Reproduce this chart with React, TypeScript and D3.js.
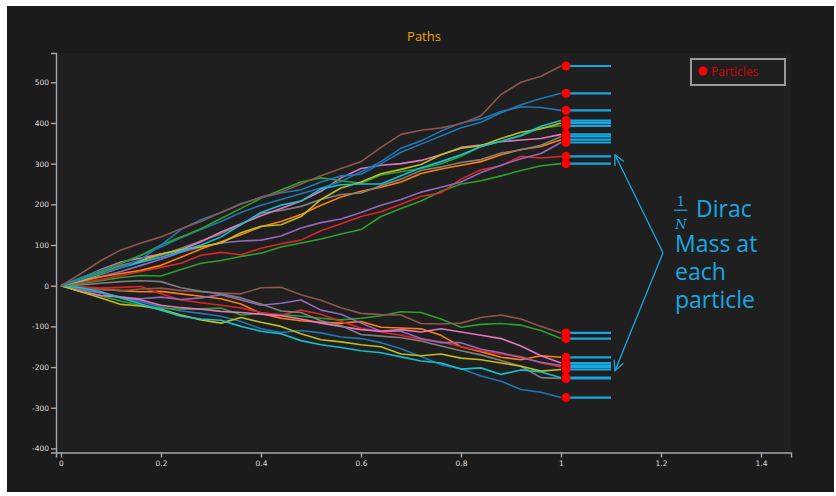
// Trayectorias de partículas con masas de Dirac al final
import { useRef, useEffect } from 'react'
import * as d3 from 'd3'

const times = [0, 0.04, 0.08, 0.12, 0.16, 0.2, 0.24, 0.28, 0.32, 0.36, 0.4, 0.44, 0.48, 0.52, 0.56, 0.6, 0.64, 0.68, 0.72, 0.76, 0.8, 0.84, 0.88, 0.92, 0.96, 1.0]

// trayectorias que suben
const upBrown = [0, 30, 62, 88, 105, 120, 140, 158, 180, 200, 218, 230, 250, 270, 288, 305, 340, 372, 382, 388, 398, 418, 470, 500, 515, 540]
const upBlueA = [0, 15, 30, 45, 65, 100, 138, 162, 180, 202, 216, 228, 236, 255, 270, 274, 300, 328, 348, 368, 388, 402, 425, 445, 460, 473]
const upBlueB = [0, 20, 38, 55, 75, 95, 118, 138, 158, 180, 198, 212, 226, 240, 256, 280, 305, 338, 356, 380, 400, 410, 428, 440, 438, 431]
const upCyan = [0, 15, 30, 45, 58, 70, 85, 100, 120, 150, 180, 198, 208, 238, 248, 250, 250, 270, 290, 305, 322, 342, 355, 370, 392, 406]
const upOlive = [0, 12, 28, 45, 62, 78, 88, 96, 105, 130, 146, 150, 170, 212, 240, 255, 275, 286, 298, 322, 338, 344, 362, 377, 386, 400]
const upGreen2 = [0, 18, 35, 55, 75, 100, 120, 140, 165, 190, 215, 235, 255, 265, 258, 252, 272, 280, 288, 300, 318, 342, 355, 368, 388, 393]
const upPink = [0, 18, 40, 58, 68, 78, 88, 108, 132, 152, 172, 190, 208, 232, 265, 288, 296, 300, 308, 322, 340, 346, 354, 358, 362, 372]
const upGray = [0, 15, 32, 50, 62, 75, 92, 110, 128, 150, 178, 185, 195, 212, 224, 228, 246, 262, 283, 292, 303, 310, 326, 334, 345, 367]
const upOrange = [0, 12, 22, 30, 38, 50, 70, 90, 108, 125, 145, 158, 175, 198, 218, 232, 242, 255, 276, 287, 296, 305, 322, 335, 342, 359]
const upPurple = [0, 10, 22, 35, 50, 65, 82, 95, 105, 110, 112, 122, 142, 155, 164, 180, 198, 212, 230, 242, 255, 278, 296, 312, 325, 352]
const upRed = [0, 8, 15, 25, 35, 45, 55, 75, 82, 76, 92, 103, 112, 135, 152, 170, 182, 200, 220, 228, 262, 285, 295, 318, 314, 318]
const upGreen = [0, 5, 12, 20, 25, 24, 40, 55, 62, 72, 80, 95, 105, 115, 127, 138, 170, 190, 208, 232, 250, 258, 270, 283, 295, 300]

// trayectorias que bajan
const dnBrown = [0, -5, -10, -12, -8, -6, -12, -15, -18, -20, -5, -4, -22, -36, -54, -68, -71, -72, -93, -94, -92, -78, -72, -82, -100, -116]
const dnGreen = [0, -12, -25, -38, -48, -55, -58, -57, -55, -72, -68, -71, -75, -80, -84, -80, -74, -64, -66, -82, -102, -95, -93, -97, -110, -130]
const dnOrange = [0, -5, -8, -12, -15, -14, -20, -26, -32, -45, -68, -80, -86, -90, -92, -88, -102, -104, -106, -122, -150, -162, -176, -182, -172, -176]
const dnPink = [0, -15, -24, -28, -35, -48, -54, -58, -63, -66, -70, -74, -82, -92, -100, -108, -112, -108, -114, -106, -114, -122, -130, -148, -172, -190]
const dnPurple = [0, -10, -18, -28, -32, -28, -34, -30, -22, -35, -48, -43, -35, -60, -70, -92, -112, -112, -130, -140, -140, -156, -165, -177, -188, -196]
const dnRed = [0, -3, -6, -4, -2, -20, -35, -42, -48, -55, -66, -72, -60, -70, -88, -104, -114, -122, -132, -138, -150, -160, -168, -174, -190, -200]
const dnOlive = [0, -15, -30, -46, -50, -58, -72, -84, -92, -78, -90, -100, -118, -133, -138, -145, -150, -168, -172, -168, -178, -182, -190, -198, -210, -206]
const dnGray = [0, 2, 6, 10, 12, 10, -5, -14, -20, -30, -45, -62, -66, -86, -98, -120, -124, -128, -136, -148, -160, -170, -184, -198, -226, -228]
const dnCyan = [0, -5, -15, -30, -45, -60, -75, -82, -85, -100, -112, -118, -135, -145, -152, -160, -165, -175, -185, -190, -205, -202, -218, -207, -212, -226]
const dnBlue = [0, -8, -18, -30, -40, -52, -62, -68, -75, -88, -106, -115, -110, -116, -126, -130, -140, -155, -174, -194, -204, -222, -235, -255, -262, -275]

// índice en d3.schemeCategory10
const series = [
  { values: dnBlue, color: 0 }, { values: dnOrange, color: 1 }, { values: dnGreen, color: 2 },
  { values: dnRed, color: 3 }, { values: dnPurple, color: 4 }, { values: dnBrown, color: 5 },
  { values: dnPink, color: 6 }, { values: dnGray, color: 7 }, { values: dnOlive, color: 8 },
  { values: dnCyan, color: 9 },
  { values: upGreen, color: 2 }, { values: upRed, color: 3 }, { values: upPurple, color: 4 },
  { values: upOrange, color: 1 }, { values: upGray, color: 7 }, { values: upPink, color: 6 },
  { values: upBlueB, color: 0 }, { values: upGreen2, color: 2 }, { values: upOlive, color: 8 },
  { values: upCyan, color: 9 }, { values: upBlueA, color: 0 }, { values: upBrown, color: 5 },
]

const particleX = 1.01
const diracEnd = 1.1
const xTicks = [0, 0.2, 0.4, 0.6, 0.8, 1, 1.2, 1.4]
const yTicks = [-400, -300, -200, -100, 0, 100, 200, 300, 400, 500]

const CYAN = '#17a8e3'

export default function App() {
  const svgRef = useRef<SVGSVGElement>(null)

  useEffect(() => {
    const W = 836
    const H = 496
    const svg = d3.select(svgRef.current)
    svg.selectAll('*').remove()

    const x = d3.scaleLinear().domain([-0.01, 1.46]).range([56, 791])
    const y = d3.scaleLinear().domain([-410, 572]).range([452.5, 53])

    svg.append('rect').attr('width', W).attr('height', H).attr('fill', '#ffffff')
    svg.append('rect').attr('x', 7).attr('y', 6).attr('width', 827).attr('height', 486).attr('fill', '#1b1b1b')
    svg.append('rect')
      .attr('x', x.range()[0]).attr('y', y.range()[1])
      .attr('width', x.range()[1] - x.range()[0])
      .attr('height', y.range()[0] - y.range()[1])
      .attr('fill', '#1f1f1f')

    // título
    svg.append('text')
      .attr('x', 424).attr('y', 41)
      .attr('text-anchor', 'middle')
      .attr('font-family', 'Open Sans, sans-serif')
      .attr('font-size', '13px')
      .attr('fill', '#f0a30a')
      .text('Paths')

    // ejes
    const xAxis = svg.append('g')
      .attr('transform', `translate(0, ${y.range()[0]})`)
      .call(d3.axisBottom(x).tickValues(xTicks).tickSize(5).tickFormat(d => String(d)))
    const yAxis = svg.append('g')
      .attr('transform', `translate(${x.range()[0]}, 0)`)
      .call(d3.axisLeft(y).tickValues(yTicks).tickSize(5).tickPadding(2).tickFormat(d => String(d)))
    ;[xAxis, yAxis].forEach(a => {
      a.selectAll('path, line').attr('stroke', '#a8a8a8').attr('stroke-width', 1.4)
      a.selectAll('text')
        .attr('fill', '#dddddd')
        .attr('font-family', 'DejaVu Sans, sans-serif')
        .attr('font-size', '7.5px')
    })

    // trayectorias
    const line = d3.line<number>()
      .x((d, i) => x(times[i]))
      .y(d => y(d))
    svg.append('g')
      .selectAll('path')
      .data(series)
      .join('path')
      .attr('d', d => line(d.values))
      .attr('fill', 'none')
      .attr('stroke', d => d3.schemeCategory10[d.color])
      .attr('stroke-width', 1.6)
      .attr('stroke-linejoin', 'round')

    const finals = series.map(s => s.values[s.values.length - 1])

    // masas de Dirac
    svg.append('g')
      .selectAll('line')
      .data(finals)
      .join('line')
      .attr('x1', x(particleX)).attr('x2', x(diracEnd))
      .attr('y1', d => y(d)).attr('y2', d => y(d))
      .attr('stroke', CYAN)
      .attr('stroke-width', 2.2)

    svg.append('g')
      .selectAll('circle')
      .data(finals)
      .join('circle')
      .attr('cx', x(particleX))
      .attr('cy', d => y(d))
      .attr('r', 4.5)
      .attr('fill', '#ff0000')

    // leyenda
    const lg = svg.append('g').attr('transform', 'translate(691, 59)')
    lg.append('rect').attr('width', 94).attr('height', 26)
      .attr('fill', 'none').attr('stroke', '#9a9a9a').attr('stroke-width', 2)
    lg.append('circle').attr('cx', 12).attr('cy', 12).attr('r', 4.5).attr('fill', '#ff0000')
    lg.append('text').attr('x', 20).attr('y', 16.5)
      .attr('font-family', 'Open Sans, sans-serif')
      .attr('font-size', '12px')
      .attr('fill', '#d40000')
      .text('Particles')

    // anotación con flechas
    const defs = svg.append('defs')
    defs.append('marker')
      .attr('id', 'arrowOpen')
      .attr('viewBox', '0 0 12 12')
      .attr('refX', 11).attr('refY', 6)
      .attr('markerWidth', 12).attr('markerHeight', 12)
      .attr('markerUnits', 'userSpaceOnUse')
      .attr('orient', 'auto')
      .append('path')
      .attr('d', 'M1,1 L11,6 L1,11')
      .attr('fill', 'none')
      .attr('stroke', CYAN)
      .attr('stroke-width', 1.3)

    const vertex = { x: 1.204, y: 81 }
    const tips = [{ x: 1.108, y: 322 }, { x: 1.108, y: -209 }]
    svg.append('g')
      .selectAll('line')
      .data(tips)
      .join('line')
      .attr('x1', x(vertex.x)).attr('y1', y(vertex.y))
      .attr('x2', d => x(d.x)).attr('y2', d => y(d.y))
      .attr('stroke', CYAN)
      .attr('stroke-width', 1.3)
      .attr('marker-end', 'url(#arrowOpen)')

    const ax = x(1.228)
    const ay = y(81)
    const ann = svg.append('g')
      .attr('fill', CYAN)
      .attr('font-family', 'Open Sans, sans-serif')
    ann.append('text').attr('x', ax + 6).attr('y', ay - 47)
      .attr('text-anchor', 'middle')
      .attr('font-family', 'DejaVu Serif, serif')
      .attr('font-size', '13px')
      .text('1')
    ann.append('line')
      .attr('x1', ax - 1).attr('x2', ax + 12.5)
      .attr('y1', ay - 42.5).attr('y2', ay - 42.5)
      .attr('stroke', CYAN).attr('stroke-width', 1.2)
    ann.append('text').attr('x', ax + 6).attr('y', ay - 24)
      .attr('text-anchor', 'middle')
      .attr('font-family', 'DejaVu Serif, serif')
      .attr('font-style', 'italic')
      .attr('font-size', '13px')
      .text('N')
    ann.append('text').attr('x', ax + 21).attr('y', ay - 35.5)
      .attr('font-size', '23px').text('Dirac')
    ;['Mass at', 'each', 'particle'].forEach((t, i) => {
      ann.append('text')
        .attr('x', ax)
        .attr('y', ay - 1 + i * 28)
        .attr('font-size', '23px')
        .text(t)
    })
  }, [])

  return (
    <svg
      ref={svgRef}
      width={836}
      height={496}
      style={{ position: 'absolute', left: 0, top: 0, display: 'block' }}
    />
  )
}
